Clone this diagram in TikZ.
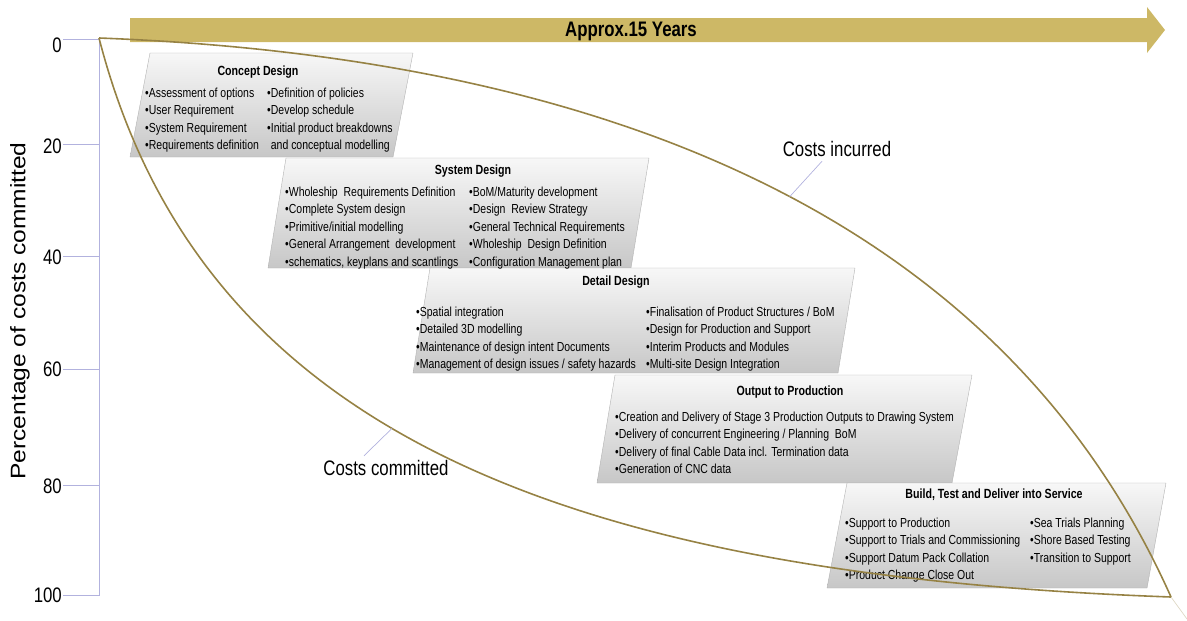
\documentclass[tikz,border=0pt]{standalone}
\usepackage{fontspec}
\setmainfont{Liberation Sans}[FakeStretch=0.8]
\newfontfamily\widefont{Liberation Sans}[FakeStretch=1.17]
\definecolor{gold}{RGB}{205,184,102}
\definecolor{olive}{RGB}{150,130,68}
\definecolor{lav}{RGB}{178,178,222}
\tikzset{
	phase/.style={draw=gray!60, top color=gray!6, bottom color=gray!44},
	head/.style={inner sep=0, font=\fontsize{13.3}{15}\selectfont\bfseries},
	items/.style={anchor=north west, inner sep=0, align=left, font=\fontsize{13.1}{17.5}\selectfont},
	tick/.style={draw=lav, line width=0.8pt},
	cost/.style={draw=olive, line width=1.6pt},
	lead/.style={draw=lav, line width=0.7pt},
	big/.style={font=\fontsize{21}{24}\selectfont}
}
\begin{document}
\begin{tikzpicture}[x=1pt, y=-1pt]
	\useasboundingbox (0,0) rectangle (1187,621);
	
	% time band
	\fill[gold] (130,18) -- (1147,18) -- (1147,7) -- (1165,30) -- (1147,53) -- (1147,42) -- (130,42) -- cycle;
	\node[font=\fontsize{21}{24}\selectfont\bfseries] (span) at (631,31) {Approx.15 Years};
	
	% axis
	\coordinate (top) at (99,38);
	\coordinate (bot) at (99,596);
	\draw[tick] (top) -- (bot);
	\foreach \v/\y/\l in {0/39/45, 20/144/146, 40/256/257, 60/369/369, 80/485/486, 100/595/595}
	{
		\coordinate (a\v) at (99,\y);
		\coordinate (b\v) at (63,\y);
		\node[anchor=east, inner sep=0, big] (n\v) at (62,\l) {\v};
		\draw[tick] (b\v) -- (a\v);
	}
	\node[rotate=90, font=\widefont\fontsize{21}{24}\selectfont] (ylab) at (20,311) {Percentage of costs committed};
	
	% phases
	\shade[phase] (150,53) -- (413,53) -- (393,157) -- (130,157) -- cycle;
	\shade[phase] (286,158) -- (649,158) -- (631,268) -- (268,268) -- cycle;
	\shade[phase] (430,268) -- (855,268) -- (838,373) -- (413,373) -- cycle;
	\shade[phase] (615,375) -- (972,375) -- (952,483) -- (597,483) -- cycle;
	\shade[phase] (847,483) -- (1166,483) -- (1147,588) -- (827,588) -- cycle;
	
	\node[head] (ct) at (258,72) {Concept Design};
	\node[items] (c1) at (145,87.5) {•Assessment of options\\•User Requirement\\•System Requirement\\•Requirements definition};
	\node[items] (c2) at (267,87.5) {•Definition of policies\\•Develop schedule\\•Initial product breakdowns\\\hphantom{•}and conceptual modelling};
	
	\node[head] (st) at (473,171) {System Design};
	\node[items] (s1) at (285,186.5) {•Wholeship\ \ Requirements Definition\\•Complete System design\\•Primitive/initial modelling\\•General Arrangement\ \ development\\•schematics, keyplans and scantlings};
	\node[items] (s2) at (469,186.5) {•BoM/Maturity development\\•Design\ \ Review Strategy\\•General Technical Requirements\\•Wholeship\ \ Design Definition\\•Configuration Management plan};
	
	\node[head] (dt) at (616,282) {Detail Design};
	\node[items] (d1) at (416,306.5) {•Spatial integration\\•Detailed 3D modelling\\•Maintenance of design intent Documents\\•Management of design issues / safety hazards};
	\node[items] (d2) at (646,306.5) {•Finalisation of Product Structures / BoM\\•Design for Production and Support\\•Interim Products and Modules\\•Multi-site Design Integration};
	
	\node[head] (ot) at (790,392) {Output to Production};
	\node[items] (o1) at (615,411.5) {•Creation and Delivery of Stage 3 Production Outputs to Drawing System\\•Delivery of concurrent Engineering / Planning\ \ BoM\\•Delivery of final Cable Data incl. Termination data\\•Generation of CNC data};
	
	\node[head] (bt) at (994,495) {Build, Test and Deliver into Service};
	\node[items] (b1) at (845,517.5) {•Support to Production\\•Support to Trials and Commissioning\\•Support Datum Pack Collation\\•Product Change Close Out};
	\node[items] (b2) at (1030,517.5) {•Sea Trials Planning\\•Shore Based Testing\\•Transition to Support};
	
	% cost curves
	\coordinate (o) at (99,38);
	\coordinate (e) at (1171,597);
	\coordinate (f) at (1187,619);
	\draw[cost] (o) .. controls (620,58) and (1005,225) .. coordinate[pos=0.52] (ci) (e);
	\draw[cost] (o) .. controls (200,430) and (560,575) .. coordinate[pos=0.45] (cc) (e);
	\draw[olive!35, line width=0.6pt] (e) -- (f);
	
	\node[big] (inc) at (837,149) {Costs incurred};
	\node[big] (com) at (386,468) {Costs committed};
	\draw[lead] ([xshift=-15pt, yshift=-1pt]inc.south) -- (ci);
	\draw[lead] ([xshift=-22pt, yshift=1pt]com.north) -- (cc);
\end{tikzpicture}
\end{document}
